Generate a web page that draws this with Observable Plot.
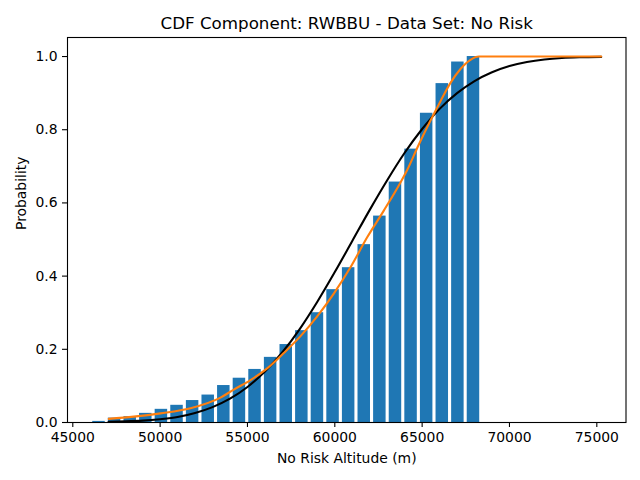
<!DOCTYPE html>
<html>
<head>
<meta charset="utf-8">
<script src="https://cdn.jsdelivr.net/npm/d3@7"></script>
<script src="https://cdn.jsdelivr.net/npm/@observablehq/plot@0.6"></script>
<style>
  html, body { margin: 0; padding: 0; background: #fff; }
  #chart svg { display: block; }
</style>
</head>
<body>
<div id="chart"></div>
<script>
// Histogram (cumulative) bins
const binCenters = [46500, 47393, 48287, 49180, 50073, 50967, 51860, 52753, 53646, 54540,
  55433, 56326, 57220, 58113, 59006, 59900, 60793, 61686, 62579, 63473,
  64366, 65259, 66153, 67046, 67939];
const binValues = [0.003, 0.012, 0.016, 0.025, 0.036, 0.047, 0.060, 0.075, 0.101, 0.121,
  0.145, 0.178, 0.213, 0.251, 0.300, 0.363, 0.423, 0.486, 0.564, 0.657,
  0.747, 0.845, 0.926, 0.985, 1.000];
const binWidth = 715;

// Black reference CDF curve
const blackX = [47050, 48000, 49000, 50000, 51000, 52000, 53000, 54000, 55000, 56000,
  57000, 58000, 59000, 60000, 61000, 62000, 63000, 64000, 65000, 66000,
  67000, 68000, 69000, 70000, 71000, 72000, 73000, 74000, 75250];
const blackY = [0.002, 0.003, 0.005, 0.009, 0.015, 0.026, 0.042, 0.065, 0.097, 0.139,
  0.192, 0.256, 0.330, 0.411, 0.496, 0.581, 0.662, 0.737, 0.802, 0.857,
  0.900, 0.933, 0.957, 0.974, 0.985, 0.992, 0.996, 0.998, 0.999];

// Orange smoothed empirical CDF
const orangeX = [47061, 48492, 50021, 51738, 53456, 54218, 55173, 56130, 57080, 58038,
  58992, 59942, 60898, 61854, 62805, 63761, 64144, 64717, 65478, 66051,
  66623, 67196, 67768, 68244, 75250];
const orangeY = [0.010, 0.016, 0.025, 0.039, 0.068, 0.090, 0.116, 0.148, 0.190, 0.236,
  0.290, 0.352, 0.424, 0.506, 0.579, 0.656, 0.690, 0.750, 0.825, 0.878,
  0.928, 0.966, 0.991, 1.000, 1.000];

// Axis ticks
const xTicks = [45000, 50000, 55000, 60000, 65000, 70000, 75000];
const yTicks = [0, 0.2, 0.4, 0.6, 0.8, 1.0];

const titleText = "CDF Component: RWBBU - Data Set: No Risk";
const xLabel = "No Risk Altitude (m)";
const yLabel = "Probability";

const bars = binCenters.map((c, i) => ({x1: c - binWidth / 2, x2: c + binWidth / 2, y: binValues[i]}));
const blackLine = blackX.map((x, i) => ({x, y: blackY[i]}));
const orangeLine = orangeX.map((x, i) => ({x, y: orangeY[i]}));

const chart = Plot.plot({
  width: 640,
  height: 480,
  marginLeft: 67,
  marginRight: 14.5,
  marginTop: 37,
  marginBottom: 58,
  style: {fontFamily: "DejaVu Sans", fontSize: "13.9px", color: "black", background: "white"},
  x: {domain: [44697, 76671]},
  y: {domain: [0, 1.052]},
  marks: [
    Plot.rectY(bars, {x1: "x1", x2: "x2", y: "y", fill: "#1f77b4", inset: 0}),
    Plot.line(blackLine, {x: "x", y: "y", stroke: "black", strokeWidth: 2.1, curve: "monotone-x"}),
    Plot.line(orangeLine, {x: "x", y: "y", stroke: "#ff7f0e", strokeWidth: 2.1, curve: "monotone-x"}),
    Plot.frame({stroke: "black", strokeWidth: 1.1}),
    Plot.axisX({ticks: xTicks, tickFormat: d => String(d), tickSize: 5, tickPadding: 5, label: null, fontSize: 13.9, strokeWidth: 1.1}),
    Plot.axisY({ticks: yTicks, tickFormat: d3.format(".1f"), tickSize: 5, tickPadding: 5, label: null, fontSize: 13.9, strokeWidth: 1.1}),
    Plot.text([titleText], {frameAnchor: "top", dy: -14, fontSize: 16.7, lineAnchor: "middle"}),
    Plot.text([xLabel], {frameAnchor: "bottom", dy: 36, fontSize: 13.9, lineAnchor: "middle"}),
    Plot.text([yLabel], {frameAnchor: "left", dx: -46, rotate: -90, fontSize: 13.9, lineAnchor: "middle"})
  ]
});
document.getElementById("chart").appendChild(chart);
</script>
</body>
</html>
